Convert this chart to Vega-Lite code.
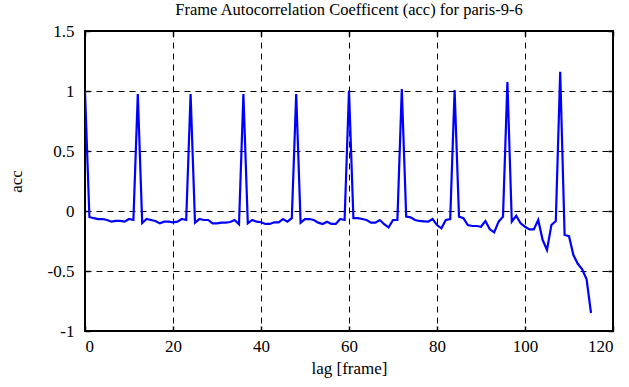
{
  "$schema": "https://vega.github.io/schema/vega-lite/v6.json",
  "autosize": "none",
  "width": 528,
  "height": 300,
  "padding": {"left": 85, "top": 31, "right": 16, "bottom": 56},
  "background": "white",
  "title": {"text": "Frame Autocorrelation Coefficent (acc) for paris-9-6", "font": "Liberation Serif", "fontSize": 16.5, "fontWeight": "normal", "color": "black", "offset": 4, "anchor": "middle"},
  "config": {
    "view": {"stroke": "black", "strokeWidth": 2},
    "text": {"font": "Liberation Serif"},
    "style": {"guide-label": {"font": "Liberation Serif", "fontSize": 17}, "guide-title": {"font": "Liberation Serif", "fontSize": 17}},
    "axis": {"labelFont": "Liberation Serif, serif", "titleFont": "Liberation Serif, serif", "labelFontSize": 17, "titleFontSize": 17, "titleFontWeight": "normal", "labelColor": "black", "titleColor": "black", "domain": false, "tickColor": "black", "tickWidth": 1.5, "gridColor": "black", "gridDash": [6, 5], "gridWidth": 1, "gridOpacity": 1}
  },
  "data": {"values": [
    {"lag": 0, "acc": 1.0}, {"lag": 1, "acc": -0.05}, {"lag": 2, "acc": -0.06}, {"lag": 3, "acc": -0.067}, {"lag": 4, "acc": -0.067}, {"lag": 5, "acc": -0.075}, {"lag": 6, "acc": -0.089}, {"lag": 7, "acc": -0.083}, {"lag": 8, "acc": -0.083}, {"lag": 9, "acc": -0.089}, {"lag": 10, "acc": -0.067}, {"lag": 11, "acc": -0.075},
    {"lag": 12, "acc": 0.975}, {"lag": 13, "acc": -0.1}, {"lag": 14, "acc": -0.067}, {"lag": 15, "acc": -0.075}, {"lag": 16, "acc": -0.083}, {"lag": 17, "acc": -0.103}, {"lag": 18, "acc": -0.089}, {"lag": 19, "acc": -0.089}, {"lag": 20, "acc": -0.094}, {"lag": 21, "acc": -0.089}, {"lag": 22, "acc": -0.067}, {"lag": 23, "acc": -0.075},
    {"lag": 24, "acc": 0.975}, {"lag": 25, "acc": -0.097}, {"lag": 26, "acc": -0.067}, {"lag": 27, "acc": -0.075}, {"lag": 28, "acc": -0.075}, {"lag": 29, "acc": -0.103}, {"lag": 30, "acc": -0.103}, {"lag": 31, "acc": -0.097}, {"lag": 32, "acc": -0.097}, {"lag": 33, "acc": -0.092}, {"lag": 34, "acc": -0.075}, {"lag": 35, "acc": -0.11},
    {"lag": 36, "acc": 0.975}, {"lag": 37, "acc": -0.103}, {"lag": 38, "acc": -0.075}, {"lag": 39, "acc": -0.089}, {"lag": 40, "acc": -0.094}, {"lag": 41, "acc": -0.108}, {"lag": 42, "acc": -0.108}, {"lag": 43, "acc": -0.094}, {"lag": 44, "acc": -0.094}, {"lag": 45, "acc": -0.067}, {"lag": 46, "acc": -0.089}, {"lag": 47, "acc": -0.06},
    {"lag": 48, "acc": 0.975}, {"lag": 49, "acc": -0.097}, {"lag": 50, "acc": -0.067}, {"lag": 51, "acc": -0.067}, {"lag": 52, "acc": -0.075}, {"lag": 53, "acc": -0.097}, {"lag": 54, "acc": -0.108}, {"lag": 55, "acc": -0.089}, {"lag": 56, "acc": -0.108}, {"lag": 57, "acc": -0.108}, {"lag": 58, "acc": -0.067}, {"lag": 59, "acc": -0.075},
    {"lag": 60, "acc": 1.003}, {"lag": 61, "acc": -0.06}, {"lag": 62, "acc": -0.06}, {"lag": 63, "acc": -0.067}, {"lag": 64, "acc": -0.075}, {"lag": 65, "acc": -0.097}, {"lag": 66, "acc": -0.097}, {"lag": 67, "acc": -0.075}, {"lag": 68, "acc": -0.11}, {"lag": 69, "acc": -0.136}, {"lag": 70, "acc": -0.075}, {"lag": 71, "acc": -0.075},
    {"lag": 72, "acc": 1.017}, {"lag": 73, "acc": -0.047}, {"lag": 74, "acc": -0.053}, {"lag": 75, "acc": -0.075}, {"lag": 76, "acc": -0.083}, {"lag": 77, "acc": -0.086}, {"lag": 78, "acc": -0.089}, {"lag": 79, "acc": -0.067}, {"lag": 80, "acc": -0.117}, {"lag": 81, "acc": -0.144}, {"lag": 82, "acc": -0.075}, {"lag": 83, "acc": -0.067},
    {"lag": 84, "acc": 1.008}, {"lag": 85, "acc": -0.047}, {"lag": 86, "acc": -0.06}, {"lag": 87, "acc": -0.117}, {"lag": 88, "acc": -0.125}, {"lag": 89, "acc": -0.125}, {"lag": 90, "acc": -0.131}, {"lag": 91, "acc": -0.083}, {"lag": 92, "acc": -0.153}, {"lag": 93, "acc": -0.178}, {"lag": 94, "acc": -0.089}, {"lag": 95, "acc": -0.047},
    {"lag": 96, "acc": 1.075}, {"lag": 97, "acc": -0.089}, {"lag": 98, "acc": -0.04}, {"lag": 99, "acc": -0.103}, {"lag": 100, "acc": -0.131}, {"lag": 101, "acc": -0.153}, {"lag": 102, "acc": -0.153}, {"lag": 103, "acc": -0.075}, {"lag": 104, "acc": -0.24}, {"lag": 105, "acc": -0.325}, {"lag": 106, "acc": -0.117}, {"lag": 107, "acc": -0.083},
    {"lag": 108, "acc": 1.161}, {"lag": 109, "acc": -0.2}, {"lag": 110, "acc": -0.21}, {"lag": 111, "acc": -0.367}, {"lag": 112, "acc": -0.44}, {"lag": 113, "acc": -0.486}, {"lag": 114, "acc": -0.57}, {"lag": 115, "acc": -0.85}
  ]},
  "layer": [
    {
      "mark": {"type": "line", "color": "#0000ff", "strokeWidth": 2.2, "clip": true},
      "encoding": {
        "x": {"field": "lag", "type": "quantitative", "scale": {"domain": [0, 120], "nice": false, "zero": false},
          "axis": {"orient": "bottom", "values": [0, 20, 40, 60, 80, 100, 120], "grid": true, "tickSize": -5, "labelPadding": 12, "title": "lag [frame]", "titlePadding": 6, "labelExpr": "'' + datum.value"}},
        "y": {"field": "acc", "type": "quantitative", "scale": {"domain": [-1, 1.5], "nice": false, "zero": false},
          "axis": {"orient": "left", "values": [-1, -0.5, 0, 0.5, 1, 1.5], "grid": true, "tickSize": -5, "labelPadding": 16, "title": "acc", "titlePadding": 22, "labelExpr": "'' + datum.value"}}
      }
    },
    {
      "mark": {"type": "line", "opacity": 0},
      "encoding": {
        "x": {"field": "lag", "type": "quantitative", "axis": {"orient": "top", "values": [0, 20, 40, 60, 80, 100, 120], "labels": false, "grid": false, "tickSize": -5, "title": null}},
        "y": {"field": "acc", "type": "quantitative", "axis": {"orient": "right", "values": [-1, -0.5, 0, 0.5, 1, 1.5], "labels": false, "grid": false, "tickSize": -5, "title": null}}
      }
    }
  ],
  "resolve": {"axis": {"x": "independent", "y": "independent"}}
}
